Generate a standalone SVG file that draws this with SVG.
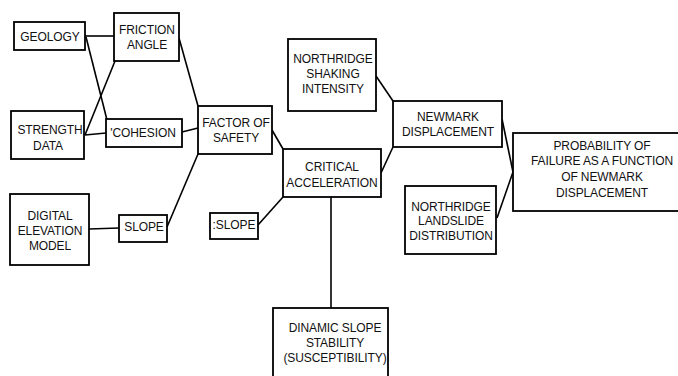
<svg xmlns="http://www.w3.org/2000/svg" width="678" height="376" viewBox="0 0 678 376">
<style>
.box{fill:#fff;stroke:#000;stroke-width:1.8}
.ln{stroke:#000;stroke-width:1.6;fill:none}
text{font-family:"Liberation Sans",Arial,sans-serif;font-size:12px;fill:#111;text-anchor:middle;letter-spacing:-0.1px}
</style>
<rect width="678" height="376" fill="#fff"/>
<g id="connectors">
<line class="ln" x1="85" y1="36" x2="114" y2="36"/>
<line class="ln" x1="86" y1="37" x2="107" y2="120"/>
<line class="ln" x1="85" y1="135" x2="115" y2="61"/>
<line class="ln" x1="85" y1="135" x2="106" y2="133"/>
<line class="ln" x1="179" y1="38" x2="198" y2="106"/>
<line class="ln" x1="182" y1="132" x2="198" y2="128"/>
<line class="ln" x1="198" y1="154" x2="167" y2="227"/>
<line class="ln" x1="89" y1="229" x2="119" y2="228"/>
<line class="ln" x1="272" y1="130" x2="283" y2="149"/>
<line class="ln" x1="283" y1="197" x2="258" y2="225"/>
<line class="ln" x1="381" y1="173" x2="393" y2="147"/>
<line class="ln" x1="376" y1="76" x2="393" y2="101"/>
<line class="ln" x1="502" y1="119" x2="513" y2="172"/>
<line class="ln" x1="497" y1="218" x2="513" y2="172"/>
<line class="ln" x1="331" y1="197" x2="331" y2="308"/>
</g>
<g id="geology"><rect class="box" x="14" y="22" width="71" height="28"/><text x="50" y="41">GEOLOGY</text></g>
<g id="friction-angle"><rect class="box" x="114" y="13" width="65" height="48"/><text x="147" y="34">FRICTION</text><text x="147" y="49">ANGLE</text></g>
<g id="strength-data"><rect class="box" x="11" y="111" width="73" height="48"/><text x="50" y="134">STRENGTH</text><text x="48" y="150">DATA</text></g>
<g id="cohesion"><rect class="box" x="106" y="119" width="76" height="28"/><text x="143" y="137">'COHESION</text></g>
<g id="factor-of-safety"><rect class="box" x="198" y="106" width="74" height="48"/><text x="236" y="127">FACTOR OF</text><text x="236" y="142">SAFETY</text></g>
<g id="dem"><rect class="box" x="10" y="194" width="79" height="71"/><text x="50" y="220">DIGITAL</text><text x="50" y="235">ELEVATION</text><text x="50" y="250">MODEL</text></g>
<g id="slope"><rect class="box" x="119" y="215" width="48" height="27"/><text x="144" y="231">SLOPE</text></g>
<g id="slope2"><rect class="box" x="210" y="213" width="48" height="26"/><text x="234" y="229">:SLOPE</text></g>
<g id="northridge-shaking"><rect class="box" x="288" y="39" width="88" height="72"/><text x="333" y="63">NORTHRIDGE</text><text x="333" y="78">SHAKING</text><text x="333" y="93">INTENSITY</text></g>
<g id="newmark"><rect class="box" x="393" y="101" width="109" height="46"/><text x="448" y="121">NEWMARK</text><text x="448" y="136">DISPLACEMENT</text></g>
<g id="critical-acceleration"><rect class="box" x="283" y="149" width="98" height="48"/><text x="332" y="171">CRITICAL</text><text x="332" y="187">ACCELERATION</text></g>
<g id="northridge-landslide"><rect class="box" x="405" y="186" width="91" height="68"/><text x="451" y="211">NORTHRIDGE</text><text x="451" y="225">LANDSLIDE</text><text x="451" y="240">DISTRIBUTION</text></g>
<g id="probability"><rect class="box" x="513" y="133" width="170" height="78"/><text x="602" y="150">PROBABILITY OF</text><text x="602" y="165">FAILURE AS A FUNCTION</text><text x="602" y="181">OF NEWMARK</text><text x="602" y="197">DISPLACEMENT</text></g>
<g id="dinamic"><rect class="box" x="273" y="308" width="115" height="75"/><text x="335" y="332">DINAMIC SLOPE</text><text x="335" y="347">STABILITY</text><text x="335" y="362">(SUSCEPTIBILITY)</text></g>
</svg>
